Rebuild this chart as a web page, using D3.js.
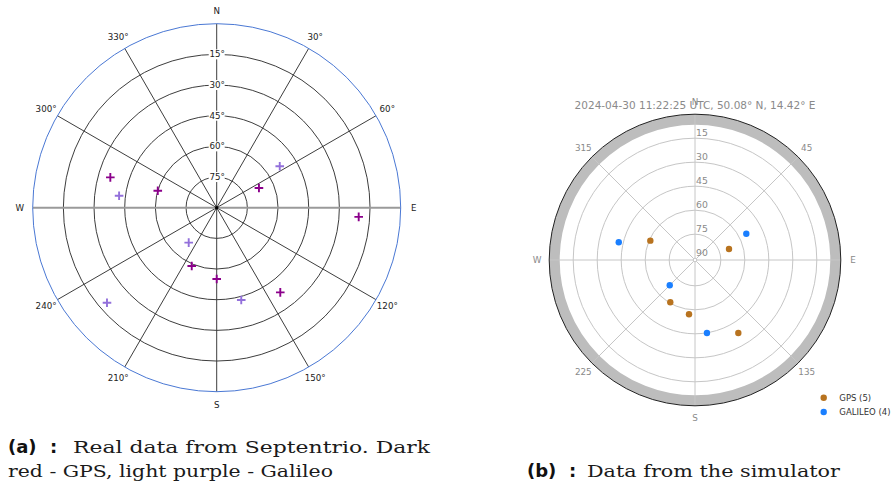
<!DOCTYPE html>
<html>
<head>
<meta charset="utf-8">
<script src="https://cdn.jsdelivr.net/npm/d3@7"></script>
<style>
  html, body { margin: 0; padding: 0; background: #fff; }
  svg { display: block; }
</style>
</head>
<body>
<svg id="chart" width="894" height="492"></svg>
<script>
// ---- Receiver sky plot (Septentrio): [azimuth°, elevation°] ----
const gpsReal = [[285.9, 35.9], [286.1, 60.0], [65.0, 67.2], [93.7, 20.4],
                 [203.2, 59.0], [180.0, 55.1], [143.1, 38.2]];
const galileoReal = [[277.0, 41.9], [56.7, 53.1], [218.7, 68.1],
                     [165.1, 43.3], [229.1, 19.0]];
const realRings = [75, 60, 45, 30, 15];
const realRingLabels = ["75°", "60°", "45°", "30°", "15°"];
const realSpokes = d3.range(0, 360, 30);
const realDirLabels = ["N", "30°", "60°", "E", "120°", "150°", "S", "210°", "240°", "W", "300°", "330°"];

// ---- Simulator sky plot: [azimuth°, elevation°] ----
const gpsSim = [[293.4, 60.7], [72.1, 68.8], [210.3, 60.5], [186.3, 57.0], [149.3, 38.1]];
const galileoSim = [[283.1, 42.2], [62.9, 55.1], [225.0, 68.8], [170.7, 44.9]];
const simRings = [90, 75, 60, 45, 30, 15];
const simRingLabels = ["90", "75", "60", "45", "30", "15"];
const simSpokes = d3.range(0, 360, 45);
const simDirLabels = ["N", "45", "E", "135", "S", "225", "W", "315"];
const simTitle = "2024-04-30 11:22:25 UTC, 50.08° N, 14.42° E";
const simLegend = [{ name: "GPS", count: gpsSim.length, color: "#b8731f" },
                   { name: "GALILEO", count: galileoSim.length, color: "#1a7fff" }];

const svg = d3.select("#chart");

// polar helper: azimuth clockwise from north
function polar(cx, cy, r, az) {
  const a = az * Math.PI / 180;
  return [cx + r * Math.sin(a), cy - r * Math.cos(a)];
}

// =============== (a) receiver plot ===============
{
  const cx = 216.7, cy = 207.7, R = 184;
  const rScale = d3.scaleLinear().domain([90, 0]).range([0, R]);
  const g = svg.append("g");

  g.selectAll("circle.ring").data(realRings).join("circle")
    .attr("cx", cx).attr("cy", cy).attr("r", d => rScale(d))
    .attr("fill", "none").attr("stroke", "#333").attr("stroke-width", 0.95);

  g.selectAll("line.spoke").data(realSpokes.filter(a => a % 180 !== 90)).join("line")
    .attr("x1", cx).attr("y1", cy)
    .attr("x2", d => polar(cx, cy, R, d)[0]).attr("y2", d => polar(cx, cy, R, d)[1])
    .attr("stroke", "#333").attr("stroke-width", 0.95);

  // east-west axis
  g.append("line")
    .attr("x1", polar(cx, cy, R, 270)[0]).attr("y1", cy)
    .attr("x2", polar(cx, cy, R, 90)[0]).attr("y2", cy)
    .attr("stroke", "#9a9a9a").attr("stroke-width", 2);

  g.append("circle").attr("cx", cx).attr("cy", cy).attr("r", rScale(0))
    .attr("fill", "none").attr("stroke", "#4a78d4").attr("stroke-width", 1);

  g.append("circle").attr("cx", cx).attr("cy", cy).attr("r", 1.8).attr("fill", "#000");

  // elevation labels on the north spoke
  const rl = g.selectAll("g.rlab").data(realRings).join("g")
    .attr("transform", d => `translate(${cx},${cy - rScale(d)})`);
  rl.append("rect").attr("x", -8).attr("y", -5).attr("width", 16).attr("height", 10).attr("fill", "#fff");
  rl.append("text").text((d, i) => realRingLabels[i])
    .attr("text-anchor", "middle").attr("dy", "0.35em").attr("x", 0.5)
    .attr("font-family", "DejaVu Sans").attr("font-size", 8.7).attr("fill", "#222");

  g.selectAll("text.dir").data(realSpokes).join("text")
    .text((d, i) => realDirLabels[i])
    .attr("x", d => polar(cx, cy, 197, d)[0]).attr("y", d => polar(cx, cy, 197, d)[1])
    .attr("text-anchor", "middle").attr("dy", "0.35em")
    .attr("font-family", "DejaVu Sans").attr("font-size", 8.7).attr("fill", "#222");

  function drawPlus(data, color) {
    const s = 4.3;
    g.append("g").selectAll("path").data(data).join("path")
      .attr("d", d => {
        const [x, y] = polar(cx, cy, rScale(d[1]), d[0]);
        return `M${x - s},${y}H${x + s}M${x},${y - s}V${y + s}`;
      })
      .attr("stroke", color).attr("stroke-width", 1.9).attr("fill", "none");
  }
  drawPlus(galileoReal, "#9370db");
  drawPlus(gpsReal, "#8b008b");
}

// =============== (b) simulator plot ===============
{
  const cx = 695, cy = 260, R = 145.8;
  const rScale = d3.scaleLinear().domain([90, 0]).range([1.8, R]);
  const g = svg.append("g");
  const band = 10.5;

  g.append("circle").attr("cx", cx).attr("cy", cy).attr("r", R - band / 2)
    .attr("fill", "none").attr("stroke", "#bdbdbd").attr("stroke-width", band);

  g.selectAll("circle.ring").data(simRings).join("circle")
    .attr("cx", cx).attr("cy", cy).attr("r", d => rScale(d))
    .attr("fill", "none").attr("stroke", "#c6c6c6").attr("stroke-width", 1);

  g.selectAll("line.spoke").data(simSpokes).join("line")
    .attr("x1", d => polar(cx, cy, rScale(90), d)[0]).attr("y1", d => polar(cx, cy, rScale(90), d)[1])
    .attr("x2", d => polar(cx, cy, R, d)[0]).attr("y2", d => polar(cx, cy, R, d)[1])
    .attr("stroke", "#c6c6c6").attr("stroke-width", 1);

  g.append("circle").attr("cx", cx).attr("cy", cy).attr("r", R)
    .attr("fill", "none").attr("stroke", "#222").attr("stroke-width", 1);

  g.selectAll("text.rlab").data(simRings).join("text")
    .text((d, i) => simRingLabels[i])
    .attr("x", cx + 1).attr("y", d => cy - rScale(d) - 1.8)
    .attr("font-family", "DejaVu Sans").attr("font-size", 9.3).attr("fill", "#8a8a8a");

  g.selectAll("text.dir").data(simSpokes).join("text")
    .text((d, i) => simDirLabels[i])
    .attr("x", d => polar(cx, cy, 158, d)[0]).attr("y", d => polar(cx, cy, 158, d)[1])
    .attr("text-anchor", "middle").attr("dy", "0.35em")
    .attr("font-family", "DejaVu Sans").attr("font-size", 8.8).attr("fill", "#8a8a8a");

  g.append("text").text(simTitle)
    .attr("x", cx).attr("y", 108.5).attr("text-anchor", "middle")
    .attr("font-family", "DejaVu Sans").attr("font-size", 10.5).attr("fill", "#8a8a8a");

  function drawDots(data, color) {
    g.append("g").selectAll("circle").data(data).join("circle")
      .attr("cx", d => polar(cx, cy, rScale(d[1]), d[0])[0])
      .attr("cy", d => polar(cx, cy, rScale(d[1]), d[0])[1])
      .attr("r", 3.2).attr("fill", color);
  }
  drawDots(gpsSim, simLegend[0].color);
  drawDots(galileoSim, simLegend[1].color);

  const lg = g.selectAll("g.leg").data(simLegend).join("g")
    .attr("transform", (d, i) => `translate(823.7,${397.7 + i * 14.3})`);
  lg.append("circle").attr("r", 3.2).attr("fill", d => d.color);
  lg.append("text").text(d => `${d.name} (${d.count})`)
    .attr("x", 15.6).attr("dy", "0.35em")
    .attr("font-family", "DejaVu Sans").attr("font-size", 8.5).attr("fill", "#333");
}

// =============== captions ===============
{
  function label(x, y, tag) {
    const t = svg.append("text").attr("y", y)
      .attr("font-family", "DejaVu Sans").attr("font-weight", "bold").attr("font-size", 18)
      .attr("fill", "#111");
    t.append("tspan").attr("x", x).text(`(${tag})`);
    t.append("tspan").attr("x", x + 42).text(":");
  }
  function line(x, y, txt, width) {
    svg.append("text").text(txt).attr("x", x).attr("y", y)
      .attr("font-family", "DejaVu Serif").attr("font-size", 17.5).attr("fill", "#1a1a1a")
      .attr("textLength", width).attr("lengthAdjust", "spacingAndGlyphs");
  }
  label(8, 452.5, "a");
  line(73, 452.5, "Real data from Septentrio. Dark", 357);
  line(8, 476.5, "red - GPS, light purple - Galileo", 325);
  label(527, 476.5, "b");
  line(587, 476.5, "Data from the simulator", 253);
}
</script>
</body>
</html>
